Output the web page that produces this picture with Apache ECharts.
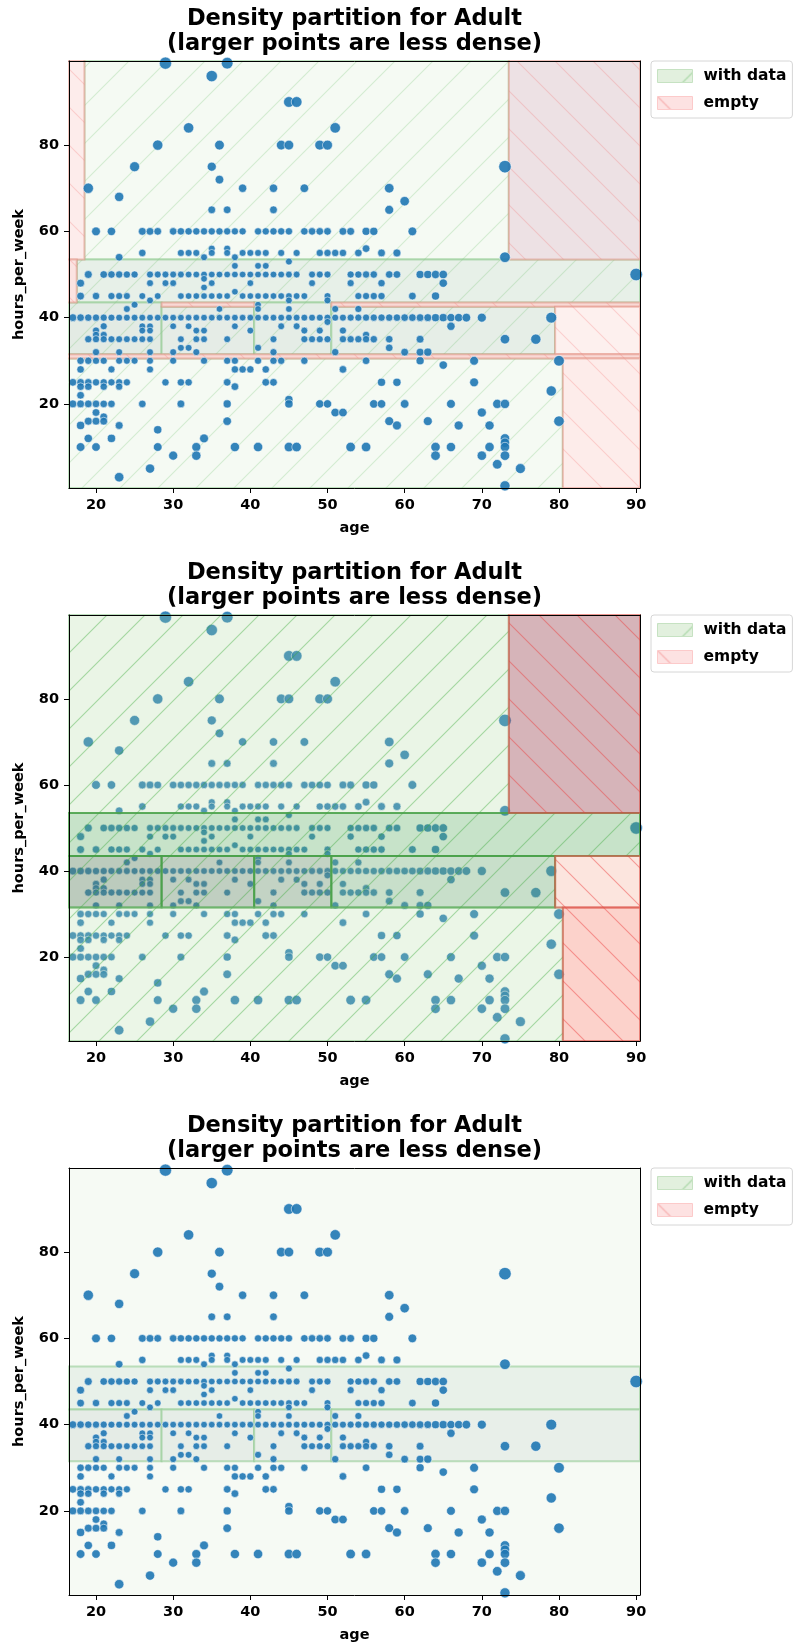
<!DOCTYPE html>
<html><head><meta charset="utf-8">
<script src="https://cdn.jsdelivr.net/npm/echarts@6/dist/echarts.min.js"></script>
<style>html,body{margin:0;padding:0;background:#fff}#c{width:793px;height:1647px}</style>
</head><body><div id="c"></div>
<script>
// ---------------- DATA ----------------
const titleText = 'Density partition for Adult\n(larger points are less dense)';
const xName = 'age';
const yName = 'hours_per_week';
const legendNames = ['with data', 'empty'];
const xTicks = [20, 30, 40, 50, 60, 70, 80, 90];
const yTicks = [20, 40, 60, 80];
const xRange = [16.5, 90.5];
const yRange = [0.5, 99.5];

// [hours_per_week, [ages...]]
const pointRows = [
  [99, [29, 37]],
  [96, [35]],
  [90, [45, 46]],
  [84, [32, 51]],
  [80, [28, 36, 44, 45, 49, 50]],
  [75, [25, 35, 73]],
  [72, [36]],
  [70, [19, 39, 43, 47, 58]],
  [68, [23]],
  [67, [60]],
  [65, [35, 37, 43, 58]],
  [60, [20, 22, 26, 27, 28, 30, 31, 32, 33, 34, 35, 36, 37, 38, 39, 41, 42, 43, 44, 45, 47, 48, 49, 50, 52, 53, 55, 56, 61]],
  [56, [35, 37, 55]],
  [55, [26, 31, 32, 33, 35, 37, 39, 40, 41, 42, 44, 46, 49, 50, 51, 52, 54, 57, 59]],
  [54, [23, 34, 38, 73]],
  [53, [45]],
  [52, [38, 41, 42]],
  [50, [19, 21, 22, 23, 24, 25, 27, 28, 29, 30, 31, 32, 33, 34, 35, 36, 37, 38, 39, 40, 41, 42, 43, 44, 45, 46, 48, 49, 50, 53, 54, 55, 56, 58, 59, 62, 63, 64, 65, 90]],
  [49, [34]],
  [48, [18, 27, 29, 30, 35, 40, 48, 53, 57, 65]],
  [47, [34]],
  [46, [38]],
  [45, [18, 20, 22, 23, 24, 26, 28, 31, 32, 33, 34, 35, 36, 37, 39, 40, 41, 42, 43, 44, 45, 46, 47, 50, 54, 55, 56, 57, 61, 64]],
  [44, [27, 45, 50]],
  [43, [25, 41]],
  [42, [24, 36, 41, 45, 51, 54]],
  [40, [17, 18, 19, 20, 21, 22, 23, 24, 25, 26, 27, 28, 29, 30, 31, 32, 33, 34, 35, 36, 37, 38, 39, 40, 41, 42, 43, 44, 45, 46, 47, 48, 49, 50, 51, 52, 53, 54, 55, 56, 57, 58, 59, 60, 61, 62, 63, 64, 65, 66, 67, 68, 70, 79]],
  [39, [50]],
  [38, [21, 26, 27, 30, 32, 38, 44, 46, 66]],
  [37, [20, 26, 27, 33, 34, 40, 47, 49, 52]],
  [36, [20, 21, 55]],
  [35, [19, 20, 21, 22, 23, 24, 25, 26, 27, 31, 33, 34, 37, 43, 47, 48, 49, 50, 52, 53, 54, 55, 56, 58, 62, 73, 77]],
  [33, [31, 32, 41, 58]],
  [32, [20, 23, 27, 30, 33, 43, 51, 60, 62, 63]],
  [30, [18, 19, 20, 21, 23, 24, 25, 27, 30, 34, 37, 38, 41, 43, 44, 47, 55, 62, 69, 80]],
  [29, [65]],
  [28, [18, 22, 27, 38, 39, 40, 42, 52]],
  [25, [17, 18, 19, 20, 21, 22, 23, 24, 29, 31, 32, 37, 42, 43, 57, 59, 69]],
  [24, [18, 19, 21, 23, 38]],
  [23, [79]],
  [22, [18]],
  [21, [45]],
  [20, [17, 18, 19, 20, 21, 22, 26, 31, 37, 45, 49, 50, 56, 57, 60, 66, 72, 73]],
  [18, [20, 51, 52, 70]],
  [17, [21]],
  [16, [19, 20, 21, 37, 58, 63, 80]],
  [15, [18, 23, 59, 67, 71]],
  [14, [28]],
  [12, [19, 22, 34, 73]],
  [11, [73]],
  [10, [18, 20, 28, 33, 38, 41, 45, 46, 53, 55, 64, 66, 71, 73]],
  [8, [30, 33, 64, 70, 73]],
  [6, [72]],
  [5, [27, 75]],
  [3, [23]],
  [1, [73]]
];

// partition cells: [ageFrom, ageTo, hoursFrom, hoursTo]
const p1WithData = [
  [18.5, 73.5, 53.5, 99.5], [17.5, 90.5, 43.5, 53.5], [16.5, 28.5, 31.5, 43.5],
  [28.5, 40.5, 31.5, 42.5], [40.5, 50.5, 31.5, 43.5], [50.5, 79.5, 31.5, 42.5],
  [16.5, 80.5, 0.5, 30.5]
];
const p1Empty = [
  [16.5, 18.5, 53.5, 99.5], [73.5, 90.5, 53.5, 99.5], [16.5, 17.5, 43.5, 53.5],
  [28.5, 40.5, 42.5, 43.5], [50.5, 90.5, 42.5, 43.5], [79.5, 90.5, 31.5, 42.5],
  [16.5, 90.5, 30.5, 31.5], [80.5, 90.5, 0.5, 30.5]
];
const p2WithData = [
  [16.5, 73.5, 53.5, 99.5], [16.5, 90.5, 43.5, 53.5], [16.5, 28.5, 31.5, 43.5],
  [28.5, 40.5, 31.5, 43.5], [40.5, 50.5, 31.5, 43.5], [50.5, 79.5, 31.5, 43.5],
  [16.5, 80.5, 0.5, 31.5]
];
const p2Empty = [
  [73.5, 90.5, 53.5, 99.5], [79.5, 90.5, 31.5, 43.5], [80.5, 90.5, 0.5, 31.5]
];
const p3WithData = [
  [16.5, 90.5, 0.5, 99.5], [16.5, 90.5, 43.5, 53.5], [16.5, 28.5, 31.5, 43.5],
  [28.5, 40.5, 31.5, 43.5], [40.5, 50.5, 31.5, 43.5], [50.5, 90.5, 31.5, 43.5]
];
const p3Empty = [];

// ---------------- STYLES ----------------
const FONT = "'DejaVu Sans', sans-serif";
const p1WithFill = ['#f5faf3', '#e7f0e8', '#e3ebe4', '#e5ece6', '#e5ede6', '#e6eee7', '#f5faf3'];
const p1EmptyFill = ['#fdeceb', '#ede1e4', '#fbe3e1', '#f9d9d5', '#f9d9d5', '#fdf0ee', '#f9d9d5', '#fdecea'];
const p2WithFill = ['rgba(171,215,155,0.25)', 'rgba(95,175,101,0.35)', 'rgba(95,131,98,0.42)',
  'rgba(105,141,107,0.42)', 'rgba(112,150,115,0.42)', 'rgba(117,175,122,0.40)', 'rgba(175,219,159,0.25)'];
const p2WithStroke = ['rgba(110,185,110,0.45)', 'rgba(70,160,70,0.8)', 'rgba(70,160,70,0.8)',
  'rgba(70,160,70,0.8)', 'rgba(70,160,70,0.8)', 'rgba(70,160,70,0.8)', 'rgba(110,185,110,0.45)'];
const p2EmptyFill = ['rgba(152,67,80,0.40)', 'rgba(245,168,145,0.30)', 'rgba(246,126,106,0.35)'];
const p3WithFill = ['#f6faf4', '#e8f1e9', '#e5ece6', '#e6ede7', '#e7eee8', '#e8efe9'];

function hatchTile(color, dir, fill) {
  const size = 38;
  const c = document.createElement('canvas');
  c.width = size; c.height = size;
  const g = c.getContext('2d');
  if (fill) { g.fillStyle = fill; g.fillRect(0, 0, size, size); }
  g.strokeStyle = color; g.lineWidth = 1.1;
  g.beginPath();
  for (const k of [-size, 0, size]) {
    if (dir === '/') { g.moveTo(k - 2, size + 2); g.lineTo(k + size + 2, -2); }
    else { g.moveTo(k - 2, -2); g.lineTo(k + size + 2, size + 2); }
  }
  g.stroke();
  return c;
}
function pat(canvas) { return { image: canvas, repeat: 'repeat' }; }

const hatch = {
  p1g: pat(hatchTile('rgba(90,180,90,0.22)', '/')),
  p1r: pat(hatchTile('rgba(240,90,90,0.22)', '\\')),
  p2g: pat(hatchTile('rgba(60,170,60,0.40)', '/')),
  p2r: pat(hatchTile('rgba(235,60,60,0.45)', '\\')),
  lg: pat(hatchTile('rgba(90,180,90,0.45)', '/', '#e2f0de')),
  lr: pat(hatchTile('rgba(240,90,90,0.40)', '\\', '#fde2e2'))
};

// ---------------- POINTS ----------------
const pts = [];
pointRows.forEach(([h, ages]) => ages.forEach(a => pts.push([a, h])));
const pxX = 571 / (xRange[1] - xRange[0]), pxY = 427 / (yRange[1] - yRange[0]);
// local density (Gaussian kernel in screen space); less dense -> larger marker
const dens = pts.map(p => {
  let s = 0;
  for (const q of pts) {
    const dx = (p[0] - q[0]) * pxX, dy = (p[1] - q[1]) * pxY;
    s += Math.exp(-(dx * dx + dy * dy) / 5000);
  }
  return s;
});
const sizes = dens.map(d => Math.max(6.4, Math.min(12.5, 14.2 - 1.7 * Math.log(d))));

// ---------------- LAYOUT ----------------
const grids = [
  { left: 69, top: 61, width: 571, height: 427 },
  { left: 69, top: 615, width: 571, height: 426 },
  { left: 69, top: 1168, width: 571, height: 427 }
];

function rectRender(fills, strokes, lw, hatchPat) {
  return function (params, api) {
    const p0 = api.coord([api.value(0), api.value(3)]);
    const p1 = api.coord([api.value(1), api.value(2)]);
    const shape = { x: p0[0], y: p0[1], width: p1[0] - p0[0], height: p1[1] - p0[1] };
    const i = params.dataIndex;
    const children = [{ type: 'rect', shape, style: { fill: fills[i] } }];
    if (hatchPat) children.push({ type: 'rect', shape, style: { fill: hatchPat } });
    const st = Array.isArray(strokes) ? strokes[i] : strokes;
    if (st) children.push({ type: 'rect', shape, style: { fill: 'none', stroke: st, lineWidth: lw } });
    return { type: 'group', children };
  };
}

const panels = [
  { withData: p1WithData, empty: p1Empty, wf: p1WithFill, ef: p1EmptyFill,
    ws: 'rgba(120,190,120,0.45)', es: 'rgba(225,140,125,0.5)', hg: hatch.p1g, hr: hatch.p1r, pointsOnTop: true },
  { withData: p2WithData, empty: p2Empty, wf: p2WithFill, ef: p2EmptyFill,
    ws: p2WithStroke, es: 'rgba(220,80,70,0.6)', hg: hatch.p2g, hr: hatch.p2r, pointsOnTop: false },
  { withData: p3WithData, empty: p3Empty, wf: p3WithFill, ef: [],
    ws: [null, 'rgba(140,200,140,0.55)', 'rgba(140,200,140,0.55)', 'rgba(140,200,140,0.55)', 'rgba(140,200,140,0.55)', 'rgba(140,200,140,0.55)'],
    es: null, hg: null, hr: null, pointsOnTop: true }
];

const labelStyle = { fontFamily: FONT, fontWeight: 'bold', fontSize: 14.5, color: '#000' };
const xAxis = [], yAxis = [], series = [], title = [], legend = [];
grids.forEach((g, i) => {
  xAxis.push({
    type: 'value', gridIndex: i, min: xRange[0], max: xRange[1], z: 10,
    name: xName, nameLocation: 'middle', nameGap: 33, nameTextStyle: labelStyle,
    axisLine: { show: true, onZero: false, lineStyle: { color: '#000', width: 1 } },
    axisTick: { show: true, length: 5, customValues: xTicks, lineStyle: { color: '#000', width: 1 } },
    axisLabel: Object.assign({ customValues: xTicks, margin: 10 }, labelStyle),
    splitLine: { show: false }
  });
  xAxis.push({
    type: 'value', gridIndex: i, min: xRange[0], max: xRange[1], position: 'top', z: 10,
    axisLine: { show: true, onZero: false, lineStyle: { color: '#000', width: 1 } },
    axisTick: { show: false }, axisLabel: { show: false }, splitLine: { show: false }
  });
  yAxis.push({
    type: 'value', gridIndex: i, min: yRange[0], max: yRange[1], z: 10,
    name: yName, nameLocation: 'middle', nameGap: 42, nameRotate: 90, nameTextStyle: labelStyle,
    axisLine: { show: true, onZero: false, lineStyle: { color: '#000', width: 1 } },
    axisTick: { show: true, length: 5, customValues: yTicks, lineStyle: { color: '#000', width: 1 } },
    axisLabel: Object.assign({ customValues: yTicks, margin: 10 }, labelStyle),
    splitLine: { show: false }
  });
  yAxis.push({
    type: 'value', gridIndex: i, min: yRange[0], max: yRange[1], position: 'right', z: 10,
    axisLine: { show: true, onZero: false, lineStyle: { color: '#000', width: 1 } },
    axisTick: { show: false }, axisLabel: { show: false }, splitLine: { show: false }
  });
  const P = panels[i];
  const rz = P.pointsOnTop ? 1 : 3;
  const sz = P.pointsOnTop ? 4 : 1;
  series.push({
    type: 'custom', name: legendNames[0], xAxisIndex: 2 * i, yAxisIndex: 2 * i, z: rz, silent: true,
    data: P.withData, encode: { x: [0, 1], y: [2, 3] },
    renderItem: rectRender(P.wf, P.ws, 2, P.hg)
  });
  series.push({
    type: 'custom', name: legendNames[1], xAxisIndex: 2 * i, yAxisIndex: 2 * i, z: rz, silent: true,
    data: P.empty, encode: { x: [0, 1], y: [2, 3] },
    renderItem: rectRender(P.ef, P.es, 2, P.hr)
  });
  series.push({
    type: 'scatter', name: 'points', xAxisIndex: 2 * i, yAxisIndex: 2 * i, z: sz, silent: true,
    data: pts, symbolSize: (v, p) => sizes[p.dataIndex],
    itemStyle: { color: '#1f77b4', opacity: 0.9, borderColor: '#ffffff', borderWidth: 0.6 }
  });
  title.push({
    text: titleText, left: 354.5, top: g.top - 54.5, padding: 0, textAlign: 'center',
    textStyle: { fontFamily: FONT, fontWeight: 'bold', fontSize: 22.5, lineHeight: 25, color: '#000' }
  });
  legend.push({
    orient: 'vertical', left: 651, top: g.top, padding: [7, 6, 7, 6], itemGap: 11,
    itemWidth: 35, itemHeight: 13, icon: 'rect',
    backgroundColor: '#fff', borderColor: '#d6d6d6', borderWidth: 1, borderRadius: 3,
    selectedMode: false,
    textStyle: { fontFamily: FONT, fontWeight: 'bold', fontSize: 15.5, color: '#000', padding: [0, 0, 0, 6] },
    data: [
      { name: legendNames[0], itemStyle: { color: hatch.lg, borderColor: '#c6e2c2', borderWidth: 1 } },
      { name: legendNames[1], itemStyle: { color: hatch.lr, borderColor: '#fccaca', borderWidth: 1 } }
    ]
  });
});

const chart = echarts.init(document.getElementById('c'), null, { renderer: 'canvas' });
chart.setOption({
  animation: false,
  backgroundColor: '#fff',
  title, legend,
  grid: grids.map(g => Object.assign({ containLabel: false }, g)),
  xAxis, yAxis, series
});
</script>
</body></html>
